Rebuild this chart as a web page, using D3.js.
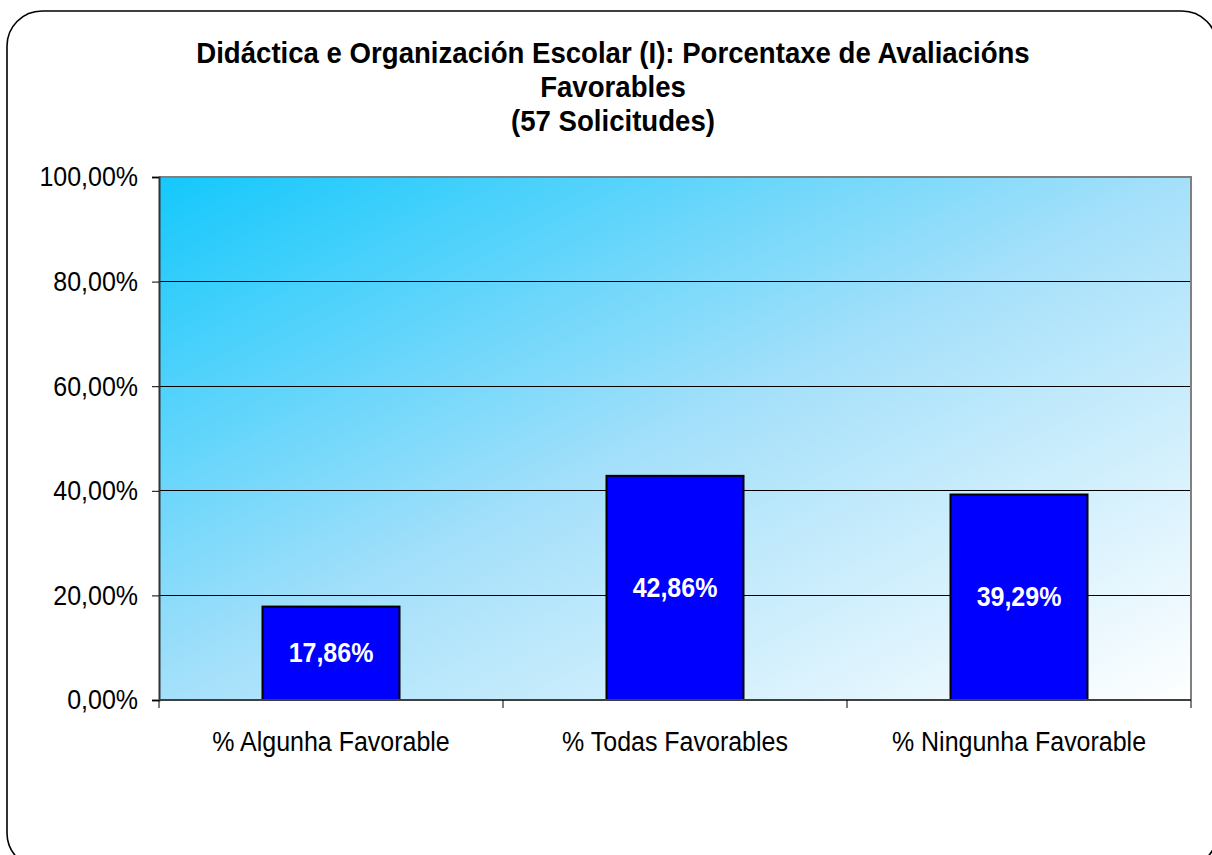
<!DOCTYPE html>
<html>
<head>
<meta charset="utf-8">
<script src="https://cdn.jsdelivr.net/npm/d3@7"></script>
<style>
  html, body { margin: 0; padding: 0; background: #fff; }
  svg { display: block; }
  text { font-family: "Liberation Sans", Arial, sans-serif; }
</style>
</head>
<body>
<svg id="chart" width="1212" height="855"></svg>
<script>
const categories = ["% Algunha Favorable", "% Todas Favorables", "% Ningunha Favorable"];
const values = [17.86, 42.86, 39.29];
const valueLabels = ["17,86%", "42,86%", "39,29%"];
const yTicks = [0, 20, 40, 60, 80, 100];
const yTickLabels = ["0,00%", "20,00%", "40,00%", "60,00%", "80,00%", "100,00%"];
const titleLines = ["Didáctica e Organización Escolar (I): Porcentaxe de Avaliacións", "Favorables", "(57 Solicitudes)"];

(function () {
const svg = d3.select("#chart");
const pL = 159, pR = 1191, pT = 177, pB = 700;
const stretch = 1.08;

// outer rounded frame
svg.append("rect")
  .attr("x", 7).attr("y", 11).attr("width", 1210).attr("height", 857)
  .attr("rx", 35).attr("ry", 35)
  .attr("fill", "#fff").attr("stroke", "#000").attr("stroke-width", 1.6);

// gradient
const defs = svg.append("defs");
const grad = defs.append("linearGradient").attr("id", "bg")
  .attr("x1", 0).attr("y1", 0).attr("x2", 1).attr("y2", 1);
grad.append("stop").attr("offset", "0%").attr("stop-color", "rgb(20,200,252)");
grad.append("stop").attr("offset", "50%").attr("stop-color", "rgb(165,224,250)");
grad.append("stop").attr("offset", "100%").attr("stop-color", "rgb(255,255,255)");

const x = d3.scaleBand().domain(categories).range([pL, pR]).paddingInner(0).paddingOuter(0);
const y = d3.scaleLinear().domain([0, 100]).range([pB, pT]);

svg.append("rect")
  .attr("x", pL).attr("y", pT).attr("width", pR - pL).attr("height", pB - pT)
  .attr("fill", "url(#bg)");

// gridlines
svg.append("g").selectAll("line").data(yTicks.filter(d => d > 0 && d < 100)).join("line")
  .attr("x1", pL).attr("x2", pR)
  .attr("y1", d => y(d)).attr("y2", d => y(d))
  .attr("stroke", "#000").attr("stroke-width", 1).attr("shape-rendering", "crispEdges");

// plot border top/right
svg.append("path")
  .attr("d", `M${pL},${pT}H${pR}V${pB}`)
  .attr("fill", "none").attr("stroke", "#808080").attr("stroke-width", 2);

// bars
const barW = 137;
svg.append("g").selectAll("rect").data(values).join("rect")
  .attr("x", (d, i) => x(categories[i]) + x.bandwidth() / 2 - barW / 2)
  .attr("y", d => y(d))
  .attr("width", barW)
  .attr("height", d => y(0) - y(d))
  .attr("fill", "#0000FF").attr("stroke", "#000").attr("stroke-width", 2);

// bar labels
svg.append("g").selectAll("text").data(values).join("text")
  .attr("transform", (d, i) => `translate(${x(categories[i]) + x.bandwidth() / 2},${(y(d) + y(0)) / 2 + 9}) scale(1,${stretch})`)
  .attr("text-anchor", "middle")
  .attr("font-size", 25).attr("font-weight", "bold").attr("fill", "#fff")
  .text((d, i) => valueLabels[i]);

// y axis
const yAxis = d3.axisLeft(y).tickValues(yTicks).tickSize(7).tickPadding(14)
  .tickFormat((d, i) => yTickLabels[i]);
const gy = svg.append("g").attr("transform", `translate(${pL},0)`).call(yAxis);
gy.select(".domain").attr("stroke", "#333").attr("stroke-width", 2);
gy.selectAll(".tick line").attr("stroke", "#000");
gy.selectAll(".tick text").attr("font-size", 25).attr("fill", "#000")
  .attr("font-family", "Liberation Sans, Arial, sans-serif").attr("dy", "0.33em")
  .attr("transform", `scale(1,${stretch})`);

// x axis
const gx = svg.append("g").attr("transform", `translate(0,${pB})`);
gx.append("line").attr("x1", pL).attr("x2", pR).attr("y1", 0).attr("y2", 0)
  .attr("stroke", "#404040").attr("stroke-width", 2);
const bounds = categories.map(c => x(c)).concat([pR]);
gx.selectAll("line.tk").data(bounds).join("line").attr("class", "tk")
  .attr("x1", d => d).attr("x2", d => d).attr("y1", 0).attr("y2", 8)
  .attr("stroke", "#000").attr("stroke-width", 1);
gx.selectAll("text").data(categories).join("text")
  .attr("transform", d => `translate(${x(d) + x.bandwidth() / 2},51) scale(1,${stretch})`)
  .attr("text-anchor", "middle").attr("font-size", 25).attr("fill", "#000")
  .text(d => d);

// title
svg.append("g").selectAll("text").data(titleLines).join("text")
  .attr("transform", (d, i) => `translate(613,${63 + i * 34}) scale(1,1.04)`)
  .attr("text-anchor", "middle").attr("font-size", 27.6).attr("font-weight", "bold").attr("fill", "#000")
  .text(d => d);
})();
</script>
</body>
</html>
